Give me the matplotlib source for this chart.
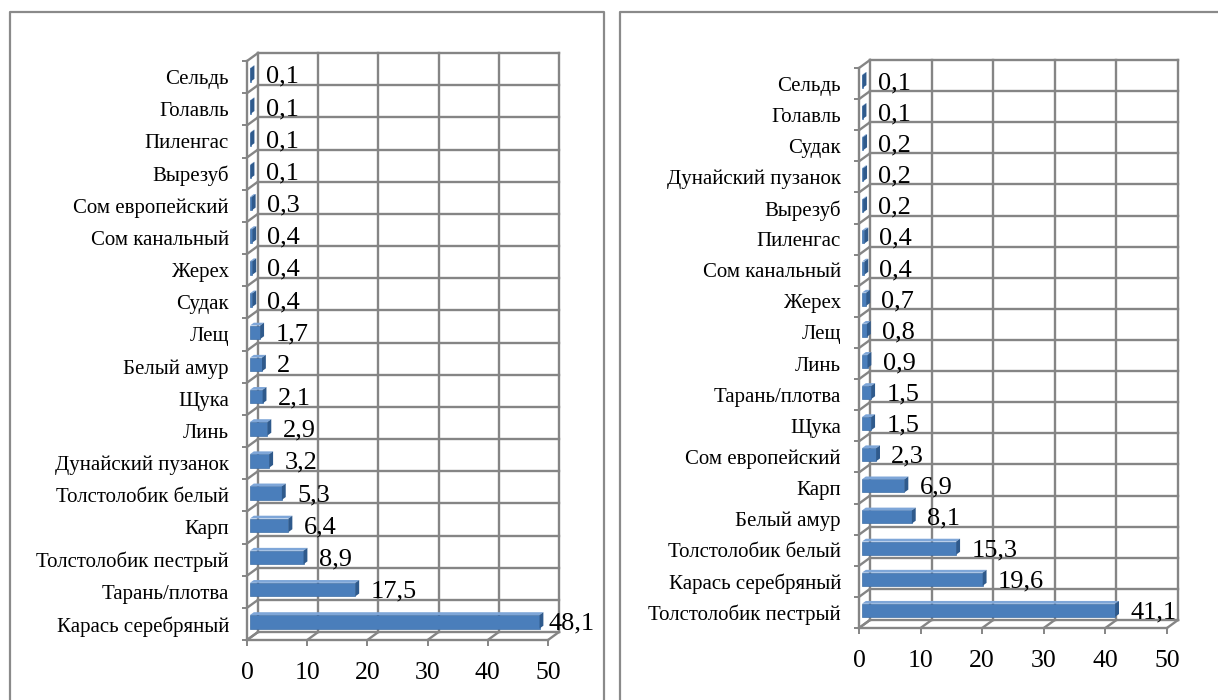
import matplotlib
matplotlib.use('Agg')
import matplotlib.pyplot as plt
from matplotlib.patches import Polygon
from matplotlib.lines import Line2D
from matplotlib.transforms import ScaledTranslation, IdentityTransform
import numpy as np

plt.rcParams['font.family'] = ['Liberation Serif', 'DejaVu Serif']

# ---------------- data ----------------
left_categories = ["Сельдь", "Голавль", "Пиленгас", "Вырезуб", "Сом европейский",
                   "Сом канальный", "Жерех", "Судак", "Лещ", "Белый амур", "Щука",
                   "Линь", "Дунайский пузанок", "Толстолобик белый", "Карп",
                   "Толстолобик пестрый", "Тарань/плотва", "Карась серебряный"]
left_values = [0.1, 0.1, 0.1, 0.1, 0.3, 0.4, 0.4, 0.4, 1.7, 2, 2.1, 2.9, 3.2,
               5.3, 6.4, 8.9, 17.5, 48.1]

right_categories = ["Сельдь", "Голавль", "Судак", "Дунайский пузанок", "Вырезуб",
                    "Пиленгас", "Сом канальный", "Жерех", "Лещ", "Линь",
                    "Тарань/плотва", "Щука", "Сом европейский", "Карп",
                    "Белый амур", "Толстолобик белый", "Карась серебряный",
                    "Толстолобик пестрый"]
right_values = [0.1, 0.1, 0.2, 0.2, 0.2, 0.4, 0.4, 0.7, 0.8, 0.9, 1.5, 1.5, 2.3,
                6.9, 8.1, 15.3, 19.6, 41.1]

x_ticks = [0, 10, 20, 30, 40, 50]

# ---------------- layout ----------------
W, H, DPI = 1218, 700, 100
fig = plt.figure(figsize=(W / DPI, H / DPI), dpi=DPI)

GRID = '#858585'
FRONT = '#4a7ebb'
TOP = '#7ea6d8'
SIDE = '#2f5a8c'
DEPTH = (11.0, 8.0)  # px offset of back wall (right, up)

panels = [
    dict(cats=left_categories, vals=left_values, x0=247, x1=548, yt=61, yb=640,
         box=(10, 604), clamp=604),
    dict(cats=right_categories, vals=right_values, x0=859, x1=1167, yt=68, yb=628,
         box=(620, 1240), clamp=1240),
]


def fmt(v):
    s = ('%g' % v)
    return s.replace('.', ',')


for p in panels:
    cats, vals = p['cats'][::-1], p['vals'][::-1]   # first category at top
    n = len(cats)
    ax = fig.add_axes([p['x0'] / W, (H - p['yb']) / H,
                       (p['x1'] - p['x0']) / W, (p['yb'] - p['yt']) / H])
    ax.set_xlim(0, 50)
    ax.set_ylim(-0.5, n - 0.5)
    ax.set_facecolor('none')
    for s in ('top', 'right'):
        ax.spines[s].set_visible(False)
    for s in ('left', 'bottom'):
        ax.spines[s].set_color(GRID)
        ax.spines[s].set_linewidth(1.7)

    y = np.arange(n)
    ax.set_yticks(y)
    ax.set_yticklabels(cats, fontsize=15)
    ax.tick_params(axis='y', length=0, pad=13)
    ax.set_yticks(np.arange(n + 1) - 0.5, minor=True)
    ax.tick_params(axis='y', which='minor', length=3.5, width=1.4, color=GRID)
    ax.set_xticks(x_ticks)
    ax.set_xticklabels([str(t) for t in x_ticks], fontsize=18.5)
    ax.tick_params(axis='x', length=4.5, width=1.4, color=GRID, pad=11)

    fig.canvas.draw()
    tr = ax.transData

    def P(x, yy, d):
        px, py = tr.transform((x, yy))
        return (px + DEPTH[0] * d, py + DEPTH[1] * d)

    def line(pts, **kw):
        ax.add_line(Line2D([q[0] for q in pts], [q[1] for q in pts],
                           transform=IdentityTransform(), clip_on=False,
                           color=GRID, lw=1.7, zorder=1, **kw))

    bounds = np.arange(n + 1) - 0.5
    # back wall
    for xt in x_ticks:
        line([P(xt, -0.5, 1), P(xt, n - 0.5, 1)])
    for b in bounds:
        line([P(0, b, 1), P(50, b, 1)])
    # floor diagonals
    for xt in x_ticks:
        line([P(xt, -0.5, 0), P(xt, -0.5, 1)])
    # side wall diagonals
    for b in bounds:
        line([P(0, b, 0), P(0, b, 1)])

    # bars (front face via barh with depth offset, top/side faces as polygons)
    d0, d1 = 0.27, 0.62
    bh = 0.42
    off = ScaledTranslation(DEPTH[0] * d0 / DPI, DEPTH[1] * d0 / DPI, fig.dpi_scale_trans)
    ax.barh(y, vals, height=bh, color=FRONT, edgecolor='#3f6fa8', linewidth=0.5,
            transform=tr + off, zorder=3)
    for yi, v in zip(y, vals):
        top = [P(0, yi + bh / 2, d0), P(v, yi + bh / 2, d0),
               P(v, yi + bh / 2, d1), P(0, yi + bh / 2, d1)]
        side = [P(v, yi - bh / 2, d0), P(v, yi + bh / 2, d0),
                P(v, yi + bh / 2, d1), P(v, yi - bh / 2, d1)]
        ax.add_patch(Polygon(top, closed=True, transform=IdentityTransform(),
                             facecolor=TOP, edgecolor='none', clip_on=False, zorder=3))
        ax.add_patch(Polygon(side, closed=True, transform=IdentityTransform(),
                             facecolor=SIDE, edgecolor='none', clip_on=False, zorder=3))

    # value labels
    fig.canvas.draw()
    rend = fig.canvas.get_renderer()
    for yi, v in zip(y, vals):
        px, py = P(v, yi, d0)
        t = ax.text(px + 15, py - 2, fmt(v), transform=IdentityTransform(),
                    fontsize=19, ha='left', va='center', zorder=4, clip_on=False)
        ext = t.get_window_extent(rend)
        if ext.x1 > p['clamp'] - 9:
            t.set_x(px + 15 - (ext.x1 - (p['clamp'] - 9)))

# panel borders
for p in panels:
    l, r = p['box']
    top = H - 12
    fig.add_artist(Line2D([l, l, r, r], [-5, top, top, -5],
                          transform=IdentityTransform(), color='#8a8a8a', lw=1.6))

fig.savefig('out.png', dpi=DPI)
